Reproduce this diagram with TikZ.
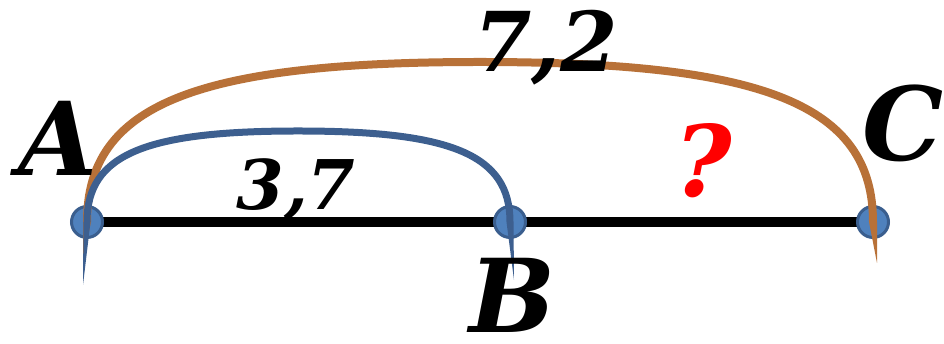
\documentclass[tikz,border=0pt]{standalone}
\usepackage{fontspec}
\setmainfont{DejaVu Serif}
\usepackage{tikz}
\usetikzlibrary{positioning, calc}
\usepackage{xcolor}
\definecolor{dotblue}{RGB}{79,129,189}
\definecolor{dotedge}{RGB}{58,94,142}
\definecolor{arcblue}{RGB}{61,95,143}
\definecolor{arcorange}{RGB}{184,113,56}

\begin{document}
\begin{tikzpicture}[
    x=0.02cm, y=0.02cm,
    pointdot/.style={circle, fill=dotblue, draw=dotedge, line width=0.06cm, minimum size=0.62cm, inner sep=0pt},
    segment/.style={line width=0.2cm, black},
    bluearc/.style={line width=0.14cm, arcblue},
    orangearc/.style={line width=0.16cm, arcorange},
    ptlabel/.style={inner sep=0pt, font=\fontsize{58}{58}\selectfont\bfseries\itshape},
    numlabel/.style={inner sep=0pt, anchor=base, font=\fontsize{47}{47}\selectfont\bfseries\itshape}
]
    \useasboundingbox (0,0) rectangle (944,344);

    % Points
    \coordinate (pA) at (87,122);
    \coordinate (pB) at (510,122);
    \coordinate (pC) at (873,122);
    \draw[segment] (pA) -- (pC);
    \node[pointdot] (A) at (pA) {};
    \node[pointdot] (B) at (pB) {};
    \node[pointdot] (C) at (pC) {};

    % Arcs
    \coordinate (topAC) at (480,282);
    \coordinate (topAB) at (298,213);
    \coordinate (tipAC1) at (83,84);
    \coordinate (tipAC2) at (877,81);
    \coordinate (tipAB1) at (83,59);
    \coordinate (tipAB2) at (514,64);
    \draw[orangearc] (A.center) .. controls +(0,118) and +(-283,0) .. (topAC)
        .. controls +(283,0) and +(0,118) .. (C.center);
    \fill[arcorange] ($(A.center)+(-4,0)$) -- (tipAC1) -- ($(A.center)+(4,0)$) -- cycle;
    \fill[arcorange] ($(C.center)+(-4,0)$) -- (tipAC2) -- ($(C.center)+(4,0)$) -- cycle;
    \draw[bluearc] (A.center) .. controls +(0,68) and +(-152,0) .. (topAB)
        .. controls +(152,0) and +(0,68) .. (B.center);
    \fill[arcblue] ($(A.center)+(-3.5,0)$) -- (tipAB1) -- ($(A.center)+(3.5,0)$) -- cycle;
    \fill[arcblue] ($(B.center)+(-3.5,0)$) -- (tipAB2) -- ($(B.center)+(3.5,0)$) -- cycle;

    % Labels
    \node[ptlabel] (labA) at (58,206) {A};
    \node[ptlabel] (labB) at (513,49) {B};
    \node[ptlabel, anchor=east] (labC) at (944,221) {C};
    \node[numlabel] (lenAC) at (546,272) {7,2};
    \node[numlabel, font=\fontsize{39}{39}\selectfont\bfseries\itshape] (lenAB) at (296,134) {3,7};
    \node[numlabel, red, font=\fontsize{56}{56}\selectfont\bfseries\itshape] (lenBC) at (703,147) {?};
\end{tikzpicture}
\end{document}
